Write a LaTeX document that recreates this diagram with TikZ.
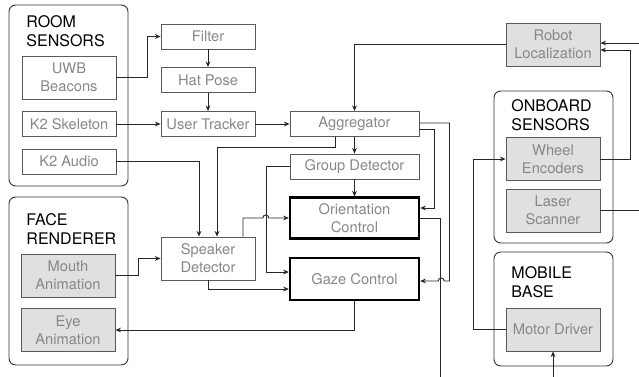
\documentclass[tikz,border=0pt]{standalone}
\usepackage{fontspec}
\setmainfont{TeX Gyre Heros}
\usetikzlibrary{arrows.meta,calc}

\begin{document}
\begin{tikzpicture}[x=0.75pt, y=-0.75pt, line width=0.7pt,
		box/.style={draw=black!65, text=black!47, align=center, inner sep=0pt, minimum width=70.5pt, minimum height=18.75pt, font=\fontsize{11}{13.5}\selectfont},
		tall/.style={box, minimum height=32.25pt},
		dev/.style={tall, fill=black!12},
		ctrl/.style={tall, draw=black, line width=1.8pt, minimum width=96.75pt, minimum height=30.5pt},
		grp/.style={draw=black!80, rounded corners=5pt, inner sep=0pt, minimum width=89.25pt},
		ttl/.style={anchor=north west, align=left, inner sep=0pt, font=\fontsize{12}{14.25}\selectfont},
		arr/.style={draw=black!85, -{Stealth[length=4.2pt,width=3.6pt]}},
		ln/.style={draw=black!85}]
	\useasboundingbox (0,0) rectangle (639,377);

	% groups
	\node[grp, minimum height=135.75pt] (room) at (68.5, 95.5) {};
	\node[grp, minimum height=126pt] (face) at (68.5, 281) {};
	\node[grp, minimum height=114pt] (onboard) at (553.5, 167) {};
	\node[grp, minimum height=85.5pt] (mobile) at (553.5, 309) {};
	\node[ttl] at (26, 15) {ROOM\\SENSORS};
	\node[ttl] at (26, 213) {FACE\\RENDERER};
	\node[ttl] at (511, 99) {ONBOARD\\SENSORS};
	\node[ttl] at (511, 266) {MOBILE\\BASE};

	% sensors and outputs
	\node[tall] (uwb) at (69, 77.5) {UWB\\Beacons};
	\node[box] (skel) at (69, 124) {K2 Skeleton};
	\node[box] (audio) at (69, 161.5) {K2 Audio};
	\node[dev] (mouth) at (68, 275.5) {Mouth\\Animation};
	\node[dev] (eye) at (68, 330) {Eye\\Animation};
	\node[dev] (robot) at (553, 44.5) {Robot\\Localization};
	\node[dev] (wheel) at (553, 159) {Wheel\\Encoders};
	\node[dev] (laser) at (553, 210.5) {Laser\\Scanner};
	\node[dev] (motor) at (553, 329.5) {Motor Driver};

	% processing
	\node[box] (filter) at (208, 36.5) {Filter};
	\node[box] (hat) at (208, 80) {Hat Pose};
	\node[box] (tracker) at (208, 124) {User Tracker};
	\node[tall] (speaker) at (208, 258.5) {Speaker\\Detector};
	\node[box, minimum width=96.75pt] (aggr) at (354.5, 124) {Aggregator};
	\node[box, minimum width=96.75pt] (group) at (354.5, 166.5) {Group Detector};
	\node[ctrl] (orient) at (354.5, 218) {Orientation\\Control};
	\node[ctrl, minimum height=31.5pt] (gaze) at (354.5, 279) {Gaze Control};

	% free ends
	\coordinate (oout) at (440, 377);
	\coordinate (mdin) at (553, 377);
	\coordinate (lsout) at (639, 210.5);
	\coordinate (rlin) at (639, 43);

	% connections
	\draw[arr] (uwb.east) -- ++(31,0) |- (filter.west);
	\draw[arr] (filter) -- (hat);
	\draw[arr] (hat) -- (tracker);
	\draw[arr] (skel) -- (tracker);
	\draw[arr] (tracker) -- (aggr);
	\draw[arr] (robot.west) -| (aggr.north);
	\draw[arr] (aggr) -- (group);
	\draw[arr] (group) -- (orient);
	\draw[arr] (audio.east) -| ($(speaker.north)+(-9,0)$);
	\draw[arr] ($(aggr.south)+(-19.5,0)$) -- ++(0,11) -| ($(speaker.north)+(9,0)$);
	\draw[arr] ($(aggr.east)+(0,5)$) -- ++(15,0) |- ($(orient.east)+(0,-10)$);
	\draw[arr] ($(aggr.east)+(0,-1)$) -- ++(30,0) |- ($(gaze.east)+(24,2)$)
		arc[start angle=0, end angle=180, radius=2.25pt] -- ($(gaze.east)+(0,2)$);
	\draw[ln] (orient.east) -| (oout);
	\draw[arr] (group.west) -- ++(-23,0) |- ($(gaze.west)+(0,-7)$);
	\draw[arr] ($(speaker.north)+(35,0)$) |- ($(orient.west)+(-26,0)$)
		arc[start angle=180, end angle=0, radius=2.25pt] -- (orient.west);
	\draw[arr] (speaker.south) |- ($(gaze.west)+(0,10)$);
	\draw[arr] (mouth.east) -- ++(23,0) |- (speaker.west);
	\draw[arr] (gaze.south) |- (eye.east);
	\draw[arr] (wheel.east) -- ++(30,0) |- ($(robot.east)+(0,5.5)$);
	\draw[arr] (rlin) -- (rlin -| robot.east);
	\draw[ln] (laser.east) -- (lsout);
	\draw[arr] (motor.west) -- ++(-32,0) |- (wheel.west);
	\draw[arr] (mdin) -- (motor.south);
\end{tikzpicture}
\end{document}
